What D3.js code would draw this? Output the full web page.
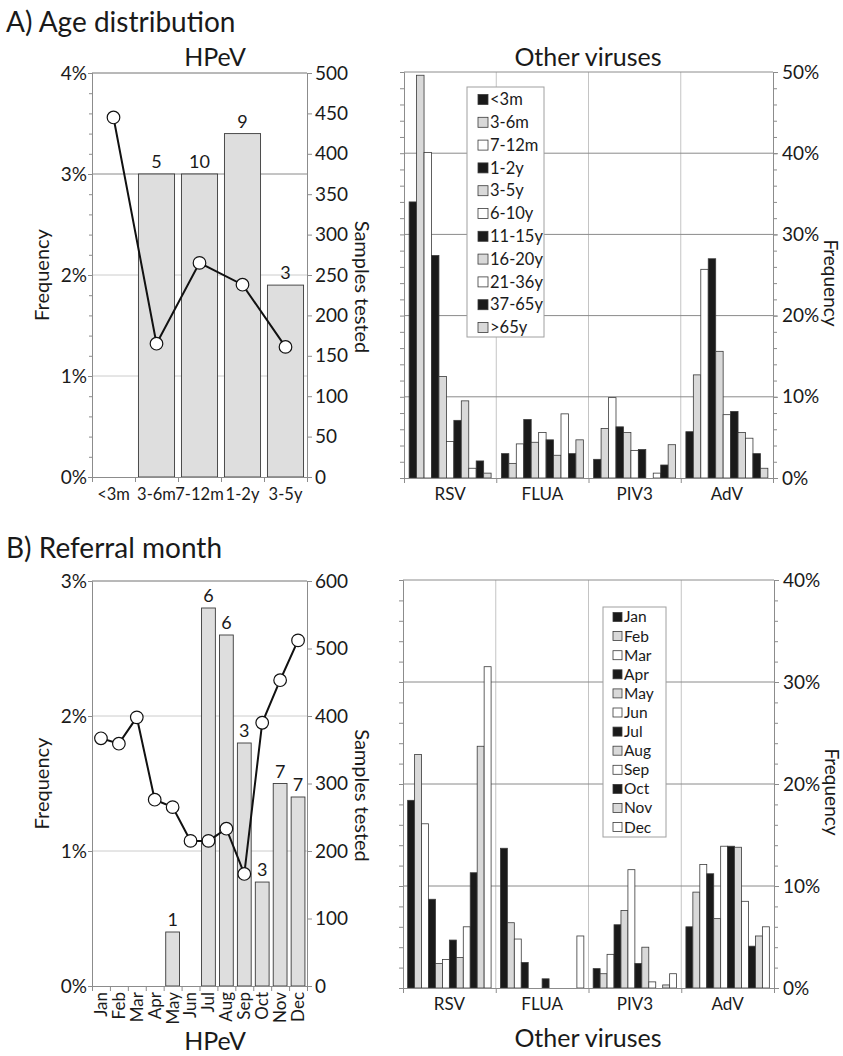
<!DOCTYPE html>
<html>
<head>
<meta charset="utf-8">
<script src="https://cdn.jsdelivr.net/npm/d3@7"></script>
<style>
  body { margin: 0; background: #fff; }
  svg text { font-family: Lato, "Open Sans", sans-serif; fill: #1a1a1a; }
</style>
</head>
<body>
<div id="chart"></div>
<script>
// ---- data ----
const hpevAgeGroups = ["<3m", "3-6m", "7-12m", "1-2y", "3-5y"];
const hpevAgeFreq = [0, 3.0, 3.0, 3.4, 1.9];            // % positive
const hpevAgeCounts = [null, 5, 10, 9, 3];               // numbers above bars
const hpevAgeSamples = [445, 165, 265, 238, 161];        // samples tested (line)

const ageSeries = ["<3m", "3-6m", "7-12m", "1-2y", "3-5y", "6-10y", "11-15y", "16-20y", "21-36y", "37-65y", ">65y"];
const viruses = ["RSV", "FLUA", "PIV3", "AdV"];
const rsvAge  = [34.0, 49.6, 40.1, 27.4, 12.5, 4.5, 7.1, 9.5, 1.2, 2.1, 0.6];
const fluaAge = [3.0, 1.8, 4.2, 7.2, 4.4, 5.6, 4.7, 2.8, 7.9, 3.0, 4.7];
const piv3Age = [2.3, 6.1, 9.9, 6.3, 5.6, 3.4, 3.5, 0, 0.6, 1.6, 4.1];
const advAge  = [5.7, 12.7, 25.7, 27.0, 15.6, 7.8, 8.2, 5.6, 4.9, 3.0, 1.2];

const months = ["Jan", "Feb", "Mar", "Apr", "May", "Jun", "Jul", "Aug", "Sep", "Oct", "Nov", "Dec"];
const hpevMonthFreq = [0, 0, 0, 0, 0.4, 0, 2.8, 2.6, 1.8, 0.77, 1.5, 1.4];
const hpevMonthCounts = [null, null, null, null, 1, null, 6, 6, 3, 3, 7, 7];
const hpevMonthSamples = [367, 359, 398, 276, 265, 215, 215, 233, 166, 390, 453, 512];

const rsvMonth  = [18.4, 22.9, 16.1, 8.7, 2.4, 2.8, 4.7, 3.0, 6.0, 11.3, 23.7, 31.5];
const fluaMonth = [13.7, 6.4, 4.8, 2.5, 0, 0, 0.9, 0, 0, 0, 0, 5.1];
const piv3Month = [1.9, 1.4, 3.3, 6.2, 7.6, 11.6, 2.4, 4.0, 0.6, 0, 0.3, 1.4];
const advMonth  = [6.0, 9.4, 12.1, 11.2, 6.8, 13.9, 13.9, 13.8, 8.5, 4.1, 5.1, 6.0];

// ---- common stuff ----
const W = 843, H = 1056;
const fills = ["#1a1a1a", "#d9d9d9", "#ffffff"];   // black / grey / white, repeating
const axisColor = "#8c8c8c";

const svg = d3.select("#chart")
    .append("svg")
        .attr("width", W)
        .attr("height", H);

function styleAxis(g, fontSize) {
    g.select(".domain").attr("stroke", axisColor);
    g.selectAll(".tick line").attr("stroke", axisColor);
    g.selectAll(".tick text")
        .attr("fill", "#1a1a1a")
        .style("font-size", fontSize + "px")
        .style("font-family", "Lato, 'Open Sans', sans-serif");
}

function addText(x, y, txt, size, opts = {}) {
    return svg.append("text")
        .attr("x", x)
        .attr("y", y)
        .attr("text-anchor", opts.anchor || "middle")
        .attr("transform", opts.rotate ? `rotate(${opts.rotate},${x},${y})` : null)
        .attr("dominant-baseline", opts.baseline || null)
        .style("font-size", size + "px")
        .text(txt);
}

// boundary ticks under a band axis (between categories)
function boundaryTicks(g, left, right, n, len) {
    const xb = d3.scaleLinear().domain([0, n]).range([left, right]);
    g.append("g")
        .call(d3.axisBottom(xb).tickValues(d3.range(n + 1)).tickSize(len).tickFormat(""))
        .call(a => styleAxis(a, 12));
}

// ---- HPeV panel (bars + samples line) ----
function hpevPanel(p) {
    const g = svg.append("g");
    const x = d3.scaleBand().domain(p.cats).range([p.left, p.right])
        .paddingInner(p.padIn).paddingOuter(p.padIn / 2);
    const y = d3.scaleLinear().domain([0, p.maxFreq]).range([p.bottom, p.top]);
    const yR = d3.scaleLinear().domain([0, p.maxSamples]).range([p.bottom, p.top]);

    // gridlines
    g.append("g").selectAll("line")
        .data(d3.range(1, p.maxFreq + 1))
        .join("line")
            .attr("x1", p.left).attr("x2", p.right)
            .attr("y1", d => y(d)).attr("y2", d => y(d))
            .attr("stroke", d => p.darkGrid && p.darkGrid.includes(d) ? "#8a8a8a" : "#cccccc")
            .attr("stroke-width", 1);

    // bars
    const cats = p.cats.map((c, i) => ({ cat: c, f: p.freq[i], n: p.counts[i], s: p.samples[i] }));
    g.append("g").selectAll("rect")
        .data(cats.filter(d => d.f > 0))
        .join("rect")
            .attr("x", d => x(d.cat))
            .attr("y", d => y(d.f))
            .attr("width", x.bandwidth())
            .attr("height", d => p.bottom - y(d.f))
            .attr("fill", "#dedede")
            .attr("stroke", "#3a3a3a")
            .attr("stroke-width", 0.9);

    // counts above bars
    g.append("g").selectAll("text")
        .data(cats.filter(d => d.n != null))
        .join("text")
            .attr("x", d => x(d.cat) + x.bandwidth() / 2)
            .attr("y", d => y(d.f) - 6)
            .attr("text-anchor", "middle")
            .style("font-size", p.countSize + "px")
            .text(d => d.n);

    // axes
    const left = g.append("g").attr("transform", `translate(${p.left},0)`);
    left.call(d3.axisLeft(y).tickValues(d3.range(0, p.maxFreq + 1)).tickSize(4).tickPadding(1).tickFormat(d => d + "%"))
        .call(a => styleAxis(a, p.tickSize));
    if (p.minorFreq) {
        left.append("g").call(d3.axisLeft(y).tickValues(d3.range(0, p.maxFreq + 0.001, p.minorFreq)).tickSize(3).tickFormat(""))
            .call(a => styleAxis(a, 10));
    }
    g.append("g").attr("transform", `translate(${p.right},0)`)
        .call(d3.axisRight(yR).tickValues(d3.range(0, p.maxSamples + 1, p.samplesStep)).tickSize(5).tickPadding(3))
        .call(a => styleAxis(a, p.tickSize));
    // top border
    g.append("line")
        .attr("x1", p.left).attr("x2", p.right)
        .attr("y1", p.top).attr("y2", p.top)
        .attr("stroke", axisColor);

    // bottom axis: boundary ticks + labels
    const bot = g.append("g").attr("transform", `translate(0,${p.bottom})`);
    boundaryTicks(bot, p.left, p.right, p.cats.length, 5);
    const lab = bot.append("g").call(d3.axisBottom(x).tickSize(0).tickPadding(8));
    lab.select(".domain").remove();
    styleAxis(lab, p.catSize);
    if (p.rotateLabels) {
        lab.selectAll(".tick text")
            .attr("transform", "rotate(-90)")
            .attr("text-anchor", "end")
            .attr("dy", "0.35em")
            .attr("x", -6)
            .attr("y", 0);
    } else {
        lab.selectAll(".tick text").attr("dy", "0.9em");
    }

    // samples line
    const line = d3.line()
        .x(d => x(d.cat) + x.bandwidth() / 2)
        .y(d => yR(d.s));
    g.append("path")
        .datum(cats)
        .attr("d", line)
        .attr("fill", "none")
        .attr("stroke", "#111")
        .attr("stroke-width", 2);
    g.append("g").selectAll("circle")
        .data(cats)
        .join("circle")
            .attr("cx", d => x(d.cat) + x.bandwidth() / 2)
            .attr("cy", d => yR(d.s))
            .attr("r", 6.3)
            .attr("fill", "#fff")
            .attr("stroke", "#111")
            .attr("stroke-width", 1.2);

    // axis titles
    addText(p.left - 48, (p.top + p.bottom) / 2, "Frequency", 20, { rotate: -90, baseline: "middle" });
    addText(p.right + 53, (p.top + p.bottom) / 2 + 12, "Samples tested", 20, { rotate: 90, baseline: "middle" });
}

// ---- other viruses panel (grouped bars) ----
function virusPanel(p) {
    const g = svg.append("g");
    const x = d3.scaleBand().domain(viruses).range([p.left, p.right]).padding(0);
    const xs = d3.scaleBand().domain(p.series).range([0, x.bandwidth()])
        .paddingInner(0).paddingOuter(p.padOut);
    const y = d3.scaleLinear().domain([0, p.max]).range([p.bottom, p.top]);

    // vertical group gridlines
    g.append("g").selectAll("line")
        .data(viruses.slice(1))
        .join("line")
            .attr("x1", d => x(d)).attr("x2", d => x(d))
            .attr("y1", p.top).attr("y2", p.bottom)
            .attr("stroke", "#c4c4c4");
    // horizontal gridlines
    g.append("g").selectAll("line")
        .data(d3.range(10, p.max + 1, 10))
        .join("line")
            .attr("x1", p.left).attr("x2", p.right)
            .attr("y1", d => y(d)).attr("y2", d => y(d))
            .attr("stroke", d => d === p.max ? axisColor : "#8a8a8a");

    // bars
    const rows = viruses.map((v, vi) => ({ v, vals: p.data[vi] }));
    g.append("g").selectAll("g")
        .data(rows)
        .join("g")
            .attr("transform", d => `translate(${x(d.v)},0)`)
        .selectAll("rect")
        .data(d => d.vals.map((val, i) => ({ key: p.series[i], i, val })).filter(e => e.val > 0))
        .join("rect")
            .attr("x", d => xs(d.key))
            .attr("y", d => y(d.val))
            .attr("width", xs.bandwidth())
            .attr("height", d => p.bottom - y(d.val))
            .attr("fill", d => fills[d.i % 3])
            .attr("stroke", "#3a3a3a")
            .attr("stroke-width", 0.8);

    // left axis: minor ticks only
    g.append("g").attr("transform", `translate(${p.left},0)`)
        .call(d3.axisLeft(y).tickValues(d3.range(0, p.max + 0.1, 2)).tickSize(4).tickFormat(""))
        .call(a => styleAxis(a, 10));
    // right axis
    const right = g.append("g").attr("transform", `translate(${p.right},0)`);
    right.call(d3.axisRight(y).tickValues(d3.range(0, p.max + 0.1, 10)).tickSize(5).tickPadding(4).tickFormat(d => d + "%"))
        .call(a => styleAxis(a, 19));
    right.append("g").call(d3.axisRight(y).tickValues(d3.range(0, p.max + 0.1, 2)).tickSize(4).tickFormat(""))
        .call(a => styleAxis(a, 10));

    // bottom axis
    const bot = g.append("g").attr("transform", `translate(0,${p.bottom})`);
    boundaryTicks(bot, p.left, p.right, viruses.length, 5);
    const lab = bot.append("g").call(d3.axisBottom(x).tickSize(0).tickPadding(8));
    lab.select(".domain").remove();
    styleAxis(lab, 17);
    lab.selectAll(".tick text").attr("dy", "0.85em");

    // legend
    const lg = g.append("g").attr("transform", `translate(${p.legend.x},${p.legend.y})`);
    lg.append("rect")
        .attr("width", p.legend.w)
        .attr("height", p.legend.h)
        .attr("fill", "#fff")
        .attr("stroke", "#a0a0a0");
    const item = lg.selectAll(".item")
        .data(p.series)
        .join("g")
            .attr("class", "item")
            .attr("transform", (d, i) => `translate(${p.legend.pad},${p.legend.first + i * p.legend.step})`);
    item.append("rect")
        .attr("x", 0)
        .attr("y", -p.legend.sw / 2)
        .attr("width", p.legend.sw)
        .attr("height", p.legend.sw)
        .attr("fill", (d, i) => fills[i % 3])
        .attr("stroke", "#3a3a3a")
        .attr("stroke-width", 0.8);
    item.append("text")
        .attr("x", p.legend.sw + 2)
        .attr("y", 0)
        .attr("dy", "0.35em")
        .style("font-size", p.legend.font + "px")
        .text(d => d);

    // right axis title
    addText(p.right + 56, p.freqY, "Frequency", 19, { rotate: 90, baseline: "middle" });
}

// ---- A) Age distribution ----
addText(6, 32, "A) Age distribution", 28, { anchor: "start" });
addText(215, 66, "HPeV", 25);
addText(588, 66, "Other viruses", 25);

hpevPanel({
    cats: hpevAgeGroups, freq: hpevAgeFreq, counts: hpevAgeCounts, samples: hpevAgeSamples,
    left: 92, right: 307, top: 73, bottom: 477,
    maxFreq: 4, maxSamples: 500, samplesStep: 50, minorFreq: 0.2,
    padIn: 0.16, darkGrid: [3], tickSize: 19, catSize: 16.5, countSize: 18
});

virusPanel({
    series: ageSeries, data: [rsvAge, fluaAge, piv3Age, advAge],
    left: 404, right: 773, top: 72, bottom: 478, max: 50, padOut: 0.69,
    freqY: 283,
    legend: { x: 467, y: 87, w: 77, h: 250, pad: 11, first: 12.5, step: 22.8, sw: 10, font: 16.5 }
});

// ---- B) Referral month ----
addText(6, 558, "B) Referral month", 28, { anchor: "start" });
addText(215, 1050, "HPeV", 25);
addText(588, 1047, "Other viruses", 25);

hpevPanel({
    cats: months, freq: hpevMonthFreq, counts: hpevMonthCounts, samples: hpevMonthSamples,
    left: 92, right: 307, top: 581, bottom: 986,
    maxFreq: 3, maxSamples: 600, samplesStep: 100, minorFreq: null,
    padIn: 0.23, tickSize: 19, catSize: 17, countSize: 18, rotateLabels: true
});

virusPanel({
    series: months, data: [rsvMonth, fluaMonth, piv3Month, advMonth],
    left: 403, right: 774, top: 580, bottom: 988, max: 40, padOut: 0.67,
    freqY: 792,
    legend: { x: 603, y: 607, w: 63, h: 230, pad: 10, first: 10, step: 19.1, sw: 9, font: 15.5 }
});
</script>
</body>
</html>
